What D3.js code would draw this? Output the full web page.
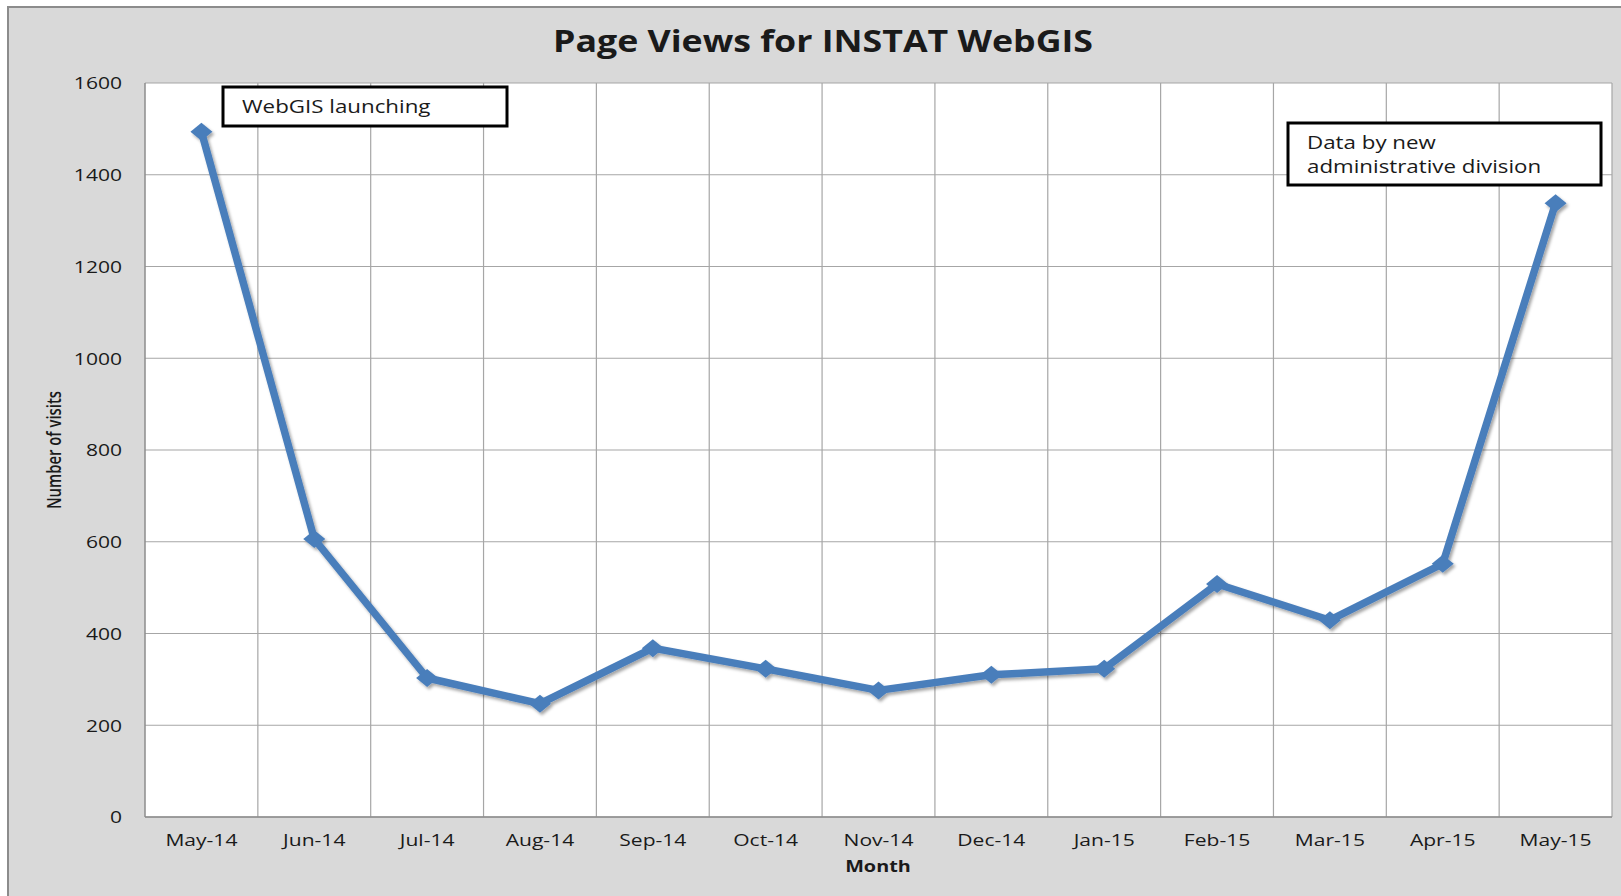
<!DOCTYPE html>
<html>
<head>
<meta charset="utf-8">
<script src="https://cdn.jsdelivr.net/npm/d3@7/dist/d3.min.js"></script>
<style>
  html, body { margin: 0; padding: 0; background: #ffffff; }
  svg { display: block; }
  text { font-family: "Open Sans", "DejaVu Sans", sans-serif; fill: #1a1a1a; }
</style>
</head>
<body>
<svg id="chart" width="1621" height="896"></svg>
<script>
// ---- data ----
const months = ["May-14","Jun-14","Jul-14","Aug-14","Sep-14","Oct-14","Nov-14","Dec-14","Jan-15","Feb-15","Mar-15","Apr-15","May-15"];
const pageViews = [1494, 606, 303, 247, 368, 323, 276, 310, 323, 508, 429, 552, 1338];
const yTicks = [0, 200, 400, 600, 800, 1000, 1200, 1400, 1600];
const titleText = "Page Views for INSTAT WebGIS";
const xTitle = "Month";
const yTitle = "Number of visits";
const notes = [
  { month: "May-14", lines: ["WebGIS launching"] },
  { month: "May-15", lines: ["Data by new", "administrative division"] }
];

// ---- layout ----
const W = 1621, H = 896;
const plot = { left: 145, right: 1612, top: 83, bottom: 817 };
const svg = d3.select("#chart");
const SX = 1.24; // horizontal stretch of text glyphs seen in reference

const defs = svg.append("defs");
const f = defs.append("filter").attr("id", "shadow").attr("x", "-20%").attr("y", "-20%").attr("width", "140%").attr("height", "140%");
f.append("feDropShadow").attr("dx", 2).attr("dy", 2.5).attr("stdDeviation", 1.5).attr("flood-color", "#000").attr("flood-opacity", 0.35);

// outer chart area
svg.append("rect").attr("x", 8).attr("y", 7).attr("width", W + 10).attr("height", H + 10)
  .attr("fill", "#d9d9d9").attr("stroke", "#8c8c8c").attr("stroke-width", 2);

// plot area
svg.append("rect").attr("x", plot.left).attr("y", plot.top)
  .attr("width", plot.right - plot.left).attr("height", plot.bottom - plot.top)
  .attr("fill", "#ffffff");

const x = d3.scaleBand().domain(months).range([plot.left, plot.right]).padding(0);
const y = d3.scaleLinear().domain([0, 1600]).range([plot.bottom, plot.top]);

// horizontal gridlines
svg.append("g").selectAll("line").data(yTicks).join("line")
  .attr("x1", plot.left).attr("x2", plot.right)
  .attr("y1", d => y(d)).attr("y2", d => y(d))
  .attr("stroke", "#a6a6a6").attr("stroke-width", 1.2);

// vertical gridlines at category boundaries
svg.append("g").selectAll("line").data(months).join("line")
  .attr("x1", d => x(d) + x.bandwidth())
  .attr("x2", d => x(d) + x.bandwidth())
  .attr("y1", plot.top).attr("y2", plot.bottom)
  .attr("stroke", "#a6a6a6").attr("stroke-width", 1.2);

// axes lines
svg.append("line").attr("x1", plot.left).attr("x2", plot.left).attr("y1", plot.top).attr("y2", plot.bottom)
  .attr("stroke", "#8c8c8c").attr("stroke-width", 1.5);
svg.append("line").attr("x1", plot.left).attr("x2", plot.right).attr("y1", plot.bottom).attr("y2", plot.bottom)
  .attr("stroke", "#8c8c8c").attr("stroke-width", 1.5);

// y tick labels
const yAxis = d3.axisLeft(y).tickValues(yTicks).tickFormat(d3.format("d")).tickSize(0).tickPadding(0);
const gy = svg.append("g").attr("transform", `translate(${plot.left - 23},0)`).call(yAxis);
gy.select(".domain").remove();
gy.selectAll("text")
  .attr("x", 0).attr("dy", "0.35em")
  .style("font-family", '"Open Sans", sans-serif').style("font-size", "17px").attr("fill", "#1a1a1a")
  .attr("transform", `scale(${SX},1)`);

// x tick labels
const xAxis = d3.axisBottom(x).tickSize(0).tickPadding(0);
const gx = svg.append("g").attr("transform", `translate(0,${plot.bottom})`).call(xAxis);
gx.select(".domain").remove();
gx.selectAll(".tick text")
  .attr("y", 29).attr("dy", 0)
  .style("font-family", '"Open Sans", sans-serif').style("font-size", "17px").attr("fill", "#1a1a1a")
  .attr("transform", `scale(${SX},1)`);

// title
svg.append("text").attr("x", 823).attr("y", 52).attr("text-anchor", "middle")
  .attr("textLength", 540).attr("lengthAdjust", "spacingAndGlyphs")
  .style("font-size", "30px").style("font-weight", "bold").attr("fill", "#000")
  .text(titleText);

// x title
svg.append("text").attr("transform", `translate(878,872) scale(${SX},1)`).attr("text-anchor", "middle")
  .style("font-size", "16px").style("font-weight", "bold").attr("fill", "#000")
  .text(xTitle);

// y title
svg.append("text").attr("transform", "translate(61,450) rotate(-90)").attr("text-anchor", "middle")
  .attr("textLength", 118).attr("lengthAdjust", "spacingAndGlyphs")
  .style("font-size", "19px").style("font-weight", "600").attr("fill", "#000")
  .text(yTitle);

// line + markers
const data = months.map((m, i) => ({ m, v: pageViews[i] }));
const cx = d => x(d.m) + x.bandwidth() / 2;
const series = svg.append("g").attr("filter", "url(#shadow)");
series.append("path").datum(data)
  .attr("d", d3.line().x(cx).y(d => y(d.v)))
  .attr("fill", "none").attr("stroke", "#4a7ebb").attr("stroke-width", 7.5).attr("stroke-linejoin", "round");
series.selectAll("path.mk").data(data).join("path").attr("class", "mk")
  .attr("d", d => { const X = cx(d), Y = y(d.v); return `M${X - 11},${Y} L${X},${Y - 9} L${X + 11},${Y} L${X},${Y + 9} Z`; })
  .attr("fill", "#4a7ebb");

// annotation boxes
const boxes = [
  { note: notes[0], x0: 223, y0: 87, w: 284, h: 39 },
  { note: notes[1], x0: 1288, y0: 123, w: 313, h: 62 }
];
boxes.forEach(b => {
  svg.append("rect").attr("x", b.x0).attr("y", b.y0).attr("width", b.w).attr("height", b.h)
    .attr("fill", "#fff").attr("stroke", "#000").attr("stroke-width", 3);
  b.note.lines.forEach((ln, i) => {
    svg.append("text").attr("transform", `translate(${b.x0 + 19},${b.y0 + 26 + i * 24}) scale(${SX},1)`)
      .style("font-size", "18px").attr("fill", "#1a1a1a").text(ln);
  });
});
</script>
</body>
</html>
